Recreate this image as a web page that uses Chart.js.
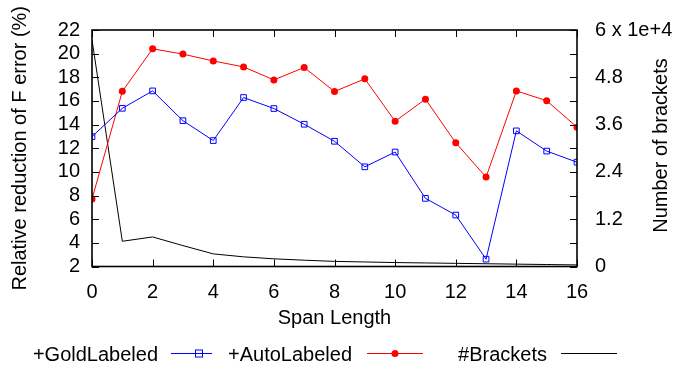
<!DOCTYPE html>
<html>
<head>
<meta charset="utf-8">
<script src="https://cdn.jsdelivr.net/npm/chart.js@4.4.1/dist/chart.umd.min.js"></script>
<style>
  html, body { margin: 0; padding: 0; background: #fff; }
  #wrap { width: 675px; height: 370px; }
</style>
</head>
<body>
<div id="wrap"><canvas id="spanChart" width="675" height="370"></canvas></div>
<script>
// span length on x, relative reduction (%) on the left axis, bracket count on the right
var spans = [0, 1, 2, 3, 4, 5, 6, 7, 8, 9, 10, 11, 12, 13, 14, 15, 16];
var goldLabeled = [12.98, 15.38, 16.85, 14.33, 12.65, 16.29, 15.36, 14.03, 12.59,
    10.43, 11.68, 7.76, 6.35, 2.62, 13.47, 11.76, 10.82];
var autoLabeled = [7.70, 16.81, 20.41, 19.96, 19.38, 18.88, 17.78, 18.83, 16.80,
    17.87, 14.28, 16.15, 12.46, 9.56, 16.85, 16.02, 13.78];
var brackets = [57500, 6400, 7500, 5300, 3200, 2450, 1950, 1600, 1300,
    1150, 1000, 900, 800, 700, 600, 500, 400];
var xTicks = [0, 2, 4, 6, 8, 10, 12, 14, 16];
var leftTicks = [2, 4, 6, 8, 10, 12, 14, 16, 18, 20, 22];
var rightTicks = [0, 12000, 24000, 36000, 48000, 60000];

var FONT = '"Liberation Sans", Arial, Helvetica, sans-serif';
var SIZE = 20;

function pairs(ys) {
    return spans.map(function (x, i) { return { x: x, y: ys[i] }; });
}

// gnuplot-like frame with inward ticks, mirrored on all sides
var framePlugin = {
    id: 'frame',
    afterDatasetsDraw: function (chart) {
        var ctx = chart.ctx;
        var a = chart.chartArea;
        var sx = chart.scales.x;
        var sy = chart.scales.y;
        var len = 7;
        ctx.save();
        ctx.strokeStyle = '#000';
        ctx.lineWidth = 1;
        ctx.beginPath();
        xTicks.forEach(function (v) {
            var px = Math.round(sx.getPixelForValue(v)) + 0.5;
            ctx.moveTo(px, a.bottom); ctx.lineTo(px, a.bottom - len);
            ctx.moveTo(px, a.top); ctx.lineTo(px, a.top + len);
        });
        leftTicks.forEach(function (v) {
            var py = Math.round(sy.getPixelForValue(v)) + 0.5;
            ctx.moveTo(a.left, py); ctx.lineTo(a.left + len, py);
            ctx.moveTo(a.right, py); ctx.lineTo(a.right - len, py);
        });
        ctx.stroke();
        ctx.lineWidth = 1.6;
        ctx.strokeRect(a.left, a.top, a.right - a.left, a.bottom - a.top);
        ctx.restore();
    }
};

// right axis title (reads bottom to top) and the key below the plot
var extrasPlugin = {
    id: 'extras',
    afterDraw: function (chart) {
        var ctx = chart.ctx;
        ctx.save();
        ctx.fillStyle = '#000';
        ctx.font = SIZE + 'px ' + FONT;
        ctx.textBaseline = 'middle';
        ctx.textAlign = 'center';
        ctx.translate(661, 145.5);
        ctx.rotate(-Math.PI / 2);
        ctx.fillText('Number of brackets', 0, 0);
        ctx.restore();

        var key = [
            { text: '+GoldLabeled', end: 158, x0: 171, x1: 212, mark: 199, ds: 0 },
            { text: '+AutoLabeled', end: 352, x0: 367, x1: 423, mark: 395, ds: 1 },
            { text: '#Brackets', end: 547, x0: 561, x1: 617, mark: null, ds: 2 }
        ];
        var y = 355;
        ctx.save();
        ctx.font = SIZE + 'px ' + FONT;
        ctx.textBaseline = 'middle';
        ctx.textAlign = 'right';
        key.forEach(function (k) {
            var ds = chart.data.datasets[k.ds];
            ctx.fillStyle = '#000';
            ctx.fillText(k.text, k.end, y);
            ctx.strokeStyle = ds.borderColor;
            ctx.lineWidth = 1;
            ctx.beginPath();
            ctx.moveTo(k.x0, y - 1.5);
            ctx.lineTo(k.x1, y - 1.5);
            ctx.stroke();
            if (k.mark !== null) {
                if (ds.pointStyle === 'rect') {
                    ctx.strokeRect(k.mark - 3.5, y - 5, 7, 7);
                } else {
                    ctx.fillStyle = ds.pointBackgroundColor;
                    ctx.beginPath();
                    ctx.arc(k.mark, y - 1.5, 3.5, 0, Math.PI * 2);
                    ctx.fill();
                }
            }
        });
        ctx.restore();
    }
};

new Chart(document.getElementById('spanChart'), {
    type: 'line',
    data: {
        datasets: [
            {
                label: '+GoldLabeled',
                data: pairs(goldLabeled),
                yAxisID: 'y',
                borderColor: '#0000ff',
                borderWidth: 1,
                pointStyle: 'rect',
                pointRadius: 4,
                pointBorderWidth: 1,
                pointBorderColor: '#0000ff',
                pointBackgroundColor: 'rgba(255,255,255,0)',
                tension: 0
            },
            {
                label: '+AutoLabeled',
                data: pairs(autoLabeled),
                yAxisID: 'y',
                borderColor: '#ff0000',
                borderWidth: 1,
                pointStyle: 'circle',
                pointRadius: 3.5,
                pointBorderWidth: 0,
                pointBackgroundColor: '#ff0000',
                tension: 0
            },
            {
                label: '#Brackets',
                data: pairs(brackets),
                yAxisID: 'y2',
                borderColor: '#000000',
                borderWidth: 1,
                pointRadius: 0,
                tension: 0
            }
        ]
    },
    options: {
        responsive: false,
        animation: false,
        events: [],
        layout: { padding: { top: 24, left: 0, right: 0, bottom: 0 } },
        plugins: { legend: { display: false }, tooltip: { enabled: false } },
        scales: {
            x: {
                type: 'linear',
                min: 0,
                max: 16,
                afterBuildTicks: function (s) {
                    s.ticks = xTicks.map(function (v) { return { value: v }; });
                },
                afterFit: function (s) { s.height = 103.5; },
                grid: { display: false, drawTicks: false },
                border: { display: false },
                ticks: {
                    color: '#000',
                    padding: 14,
                    autoSkip: false,
                    maxRotation: 0,
                    font: { family: FONT, size: SIZE }
                },
                title: {
                    display: true,
                    text: 'Span Length',
                    color: '#000',
                    font: { family: FONT, size: SIZE },
                    padding: { top: 0, bottom: 40 }
                }
            },
            y: {
                position: 'left',
                min: 2,
                max: 22,
                afterBuildTicks: function (s) {
                    s.ticks = leftTicks.map(function (v) { return { value: v }; });
                },
                afterFit: function (s) { s.width = 92; },
                grid: { display: false, drawTicks: false },
                border: { display: false },
                ticks: {
                    color: '#000',
                    padding: 12,
                    autoSkip: false,
                    font: { family: FONT, size: SIZE }
                },
                title: {
                    display: true,
                    text: 'Relative reduction of F error (%)',
                    color: '#000',
                    font: { family: FONT, size: SIZE },
                    padding: { top: 8, bottom: 0 }
                }
            },
            y2: {
                position: 'right',
                min: 0,
                max: 60000,
                afterBuildTicks: function (s) {
                    s.ticks = rightTicks.map(function (v) { return { value: v }; });
                },
                afterFit: function (s) { s.width = 98; },
                grid: { display: false, drawTicks: false },
                border: { display: false },
                ticks: {
                    color: '#000',
                    padding: 18,
                    autoSkip: false,
                    font: { family: FONT, size: SIZE },
                    callback: function (v) {
                        if (v === 0) return '0';
                        if (v === 60000) return '6 x 1e+4';
                        return (v / 1e4).toFixed(1);
                    }
                }
            }
        }
    },
    plugins: [framePlugin, extrasPlugin]
});
</script>
</body>
</html>
